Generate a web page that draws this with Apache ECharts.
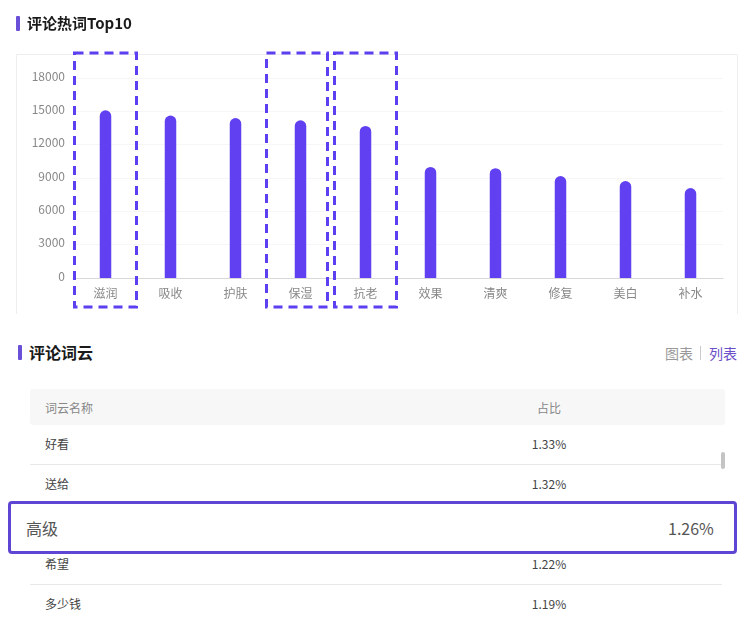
<!DOCTYPE html>
<html>
<head>
<meta charset="utf-8">
<title>评论热词</title>
<script src="https://cdn.jsdelivr.net/npm/echarts@6/dist/echarts.min.js"></script>
<style>
  html, body { margin: 0; padding: 0; background: #fff; overflow: hidden; }
  body { width: 745px; height: 627px; position: relative; font-family: "Noto Sans CJK SC", sans-serif; }
  #main { position: absolute; left: 0; top: 0; width: 745px; height: 320px; }
  .abs { position: absolute; white-space: nowrap; }
  .title { font-weight: 700; color: #1a1a1a; line-height: 20px; }
  .tick { position: absolute; width: 4px; height: 15px; background: #6a4fd8; border-radius: 1px; }
  .rowline { position: absolute; left: 30px; width: 692px; height: 1px; background: #e8e8e8; }
  .cell { position: absolute; font-size: 12px; line-height: 16px; color: #444; white-space: nowrap; }
  .name { left: 45px; }
  .pct { left: 499px; width: 100px; text-align: center; }
</style>
</head>
<body>
<div id="main"></div>

<div class="tick" style="left:16px;top:16px"></div>
<div class="abs title" style="left:27px;top:13px;font-size:15px">评论热词Top10</div>
<div class="tick" style="left:18px;top:345px"></div>
<div class="abs title" style="left:29px;top:342px;font-size:16px">评论词云</div>

<div class="abs" style="left:665px;top:344px;font-size:14px;line-height:18px;color:#999">图表</div>
<div class="abs" style="left:700px;top:346px;width:1px;height:14px;background:#ccc"></div>
<div class="abs" style="left:709px;top:344px;font-size:14px;line-height:18px;color:#6a4fc8">列表</div>

<div class="abs" style="left:30px;top:389px;width:695px;height:36px;background:#f7f7f7;border-radius:3px"></div>
<div id="table"></div>
<div class="abs" style="left:721px;top:452px;width:4px;height:17px;background:#c4c4c4;border-radius:2px"></div>
<div class="abs" style="left:8px;top:501px;width:723px;height:47px;border:3px solid #5f45d4;border-radius:4px;background:#fff"></div>
<div class="abs" style="left:26px;top:518px;font-size:16px;line-height:20px;color:#555">高级</div>
<div class="abs" style="left:668px;top:518px;font-size:16px;line-height:20px;color:#555">1.26%</div>

<script>
var categories = ["滋润", "吸收", "护肤", "保湿", "抗老", "效果", "清爽", "修复", "美白", "补水"];
var hotValues = [15100, 14620, 14400, 14200, 13690, 10000, 9885, 9170, 8720, 8090];
var yTicks = { max: 18000, interval: 3000 };
// 虚线框: 类目序号
var boxedCategories = [0, 3, 4];

var tableHead = ["词云名称", "占比"];
var rowNames = ["好看", "送给", "希望", "多少钱"];
var rowShares = ["1.33%", "1.32%", "1.22%", "1.19%"];

// 表格
var rowCenters = [444, 484, 564, 604];
var rowLines = [464, 584];
var html = '<div class="cell name" style="top:400px;color:#888">' + tableHead[0] + "</div>" +
  '<div class="cell pct" style="top:400px;color:#888">' + tableHead[1] + "</div>";
rowNames.forEach(function (name, i) {
  var top = rowCenters[i] - 8;
  html += '<div class="cell name" style="top:' + top + 'px">' + name + "</div>";
  html += '<div class="cell pct" style="top:' + top + 'px">' + rowShares[i] + "</div>";
});
rowLines.forEach(function (y) {
  html += '<div class="rowline" style="top:' + y + 'px"></div>';
});
document.getElementById("table").innerHTML = html;

var myChart = echarts.init(document.getElementById("main"), null, { renderer: "canvas" });
var option = {
  animation: false,
  backgroundColor: "#fff",
  grid: { left: 73, right: 22, top: 78, bottom: 42 },
  xAxis: {
    type: "category",
    data: categories,
    axisLine: { lineStyle: { color: "#d8d8d8" } },
    axisTick: { show: false },
    axisLabel: { color: "#888", fontSize: 12, margin: 9, fontFamily: "Noto Sans CJK SC" },
  },
  yAxis: {
    type: "value",
    min: 0,
    max: yTicks.max,
    interval: yTicks.interval,
    axisLine: { show: false },
    axisTick: { show: false },
    axisLabel: {
      color: "#888",
      fontSize: 12,
      margin: 8,
      verticalAlign: "bottom",
      lineHeight: 4,
      fontFamily: "Noto Sans CJK SC",
      formatter: function (value) {
        return String(value);
      },
    },
    splitLine: { lineStyle: { color: "#f6f6f6" } },
  },
  series: [
    {
      name: "评论热词",
      type: "bar",
      data: hotValues,
      barWidth: 11.5,
      itemStyle: { color: "#6040f0", borderRadius: [6, 6, 0, 0] },
    },
  ],
};
myChart.setOption(option);

// 卡片边框和虚线框
var boxLeft = [-31, -34, -31];
var boxRight = [31, 27, 31];
var overlay = [
  { type: "line", shape: { x1: 16.5, y1: 54.5, x2: 737.5, y2: 54.5 }, style: { stroke: "#eeeeee", lineWidth: 1 }, z: 0 },
  { type: "line", shape: { x1: 16.5, y1: 54.5, x2: 16.5, y2: 314 }, style: { stroke: "#eeeeee", lineWidth: 1 }, z: 0 },
  { type: "line", shape: { x1: 737.5, y1: 54.5, x2: 737.5, y2: 314 }, style: { stroke: "#eeeeee", lineWidth: 1 }, z: 0 },
];
boxedCategories.forEach(function (idx, i) {
  var cx = myChart.convertToPixel({ xAxisIndex: 0 }, categories[idx]);
  overlay.push({
    type: "rect",
    shape: { x: cx + boxLeft[i], y: 53, width: boxRight[i] - boxLeft[i], height: 254 },
    style: { fill: "transparent", stroke: "#5b3ff0", lineWidth: 3, lineDash: [9, 6] },
    z: 10,
  });
});
myChart.setOption({ graphic: overlay });
</script>
</body>
</html>
